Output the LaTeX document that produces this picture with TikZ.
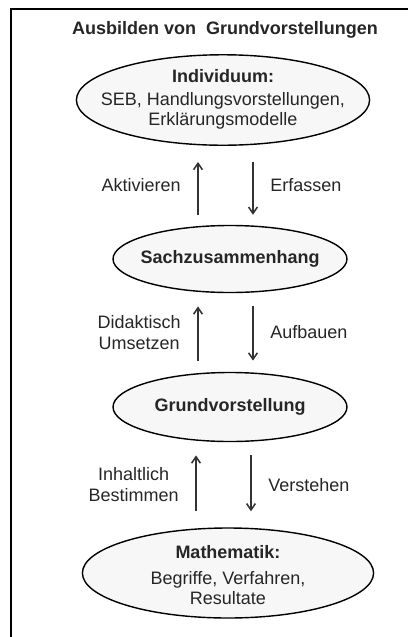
\documentclass[tikz,border=0pt]{standalone}
\usepackage{fontspec}
\setmainfont{Liberation Sans}
\usetikzlibrary{shapes.geometric,arrows.meta}

\tikzset{>={Straight Barb[length=1.6mm,width=2.2mm]}}
\tikzset{
  ell/.style={draw,ellipse,line width=1pt,fill=black!3,inner sep=0pt},
  flow/.style={->,line width=1.1pt,black!80}
}
\newcommand{\ellbox}[1]{\makebox[0pt]{\begin{tabular}{@{}c@{}}#1\end{tabular}}}

\begin{document}
\begin{tikzpicture}[every node/.style={font=\fontsize{12.8}{14.5}\selectfont,text=black!85}]
  \useasboundingbox (0,0) rectangle (10.2,-15.925);
  \draw[line width=1pt] (10.2,-0.225) -- (0.275,-0.225) -- (0.275,-15.925);
  \node[font=\fontsize{12.8}{14.5}\selectfont\bfseries] (title) at (5.625,-0.75) {Ausbilden von\ \ Grundvorstellungen};

  \node[ell,minimum width=7.33cm,minimum height=2.25cm] (ind) at (5.575,-2.5)
    {\ellbox{\textbf{Individuum:}\\[2pt] SEB, Handlungsvorstellungen,\\ Erklärungsmodelle}};
  \node[ell,minimum width=5.85cm,minimum height=1.675cm] (sach) at (5.75,-6.475)
    {\ellbox{\textbf{Sachzusammenhang}}};
  \node[ell,minimum width=5.85cm,minimum height=1.725cm] (grund) at (5.75,-10.175)
    {\ellbox{\textbf{Grundvorstellung}}};
  \node[ell,minimum width=7.28cm,minimum height=2.25cm] (math) at (5.7,-14.325)
    {\makebox[0pt]{\raisebox{-6.3pt}[0pt][0pt]{\begin{tabular}{@{}c@{}}\textbf{Mathematik:}\\[4pt] Begriffe,\ Verfahren,\\ Resultate\end{tabular}}}};

  \foreach \a/\b/\s/\t/\l/\r in {ind/sach/0.25/0.4/{Aktivieren}/{Erfassen},
      sach/grund/0.28/0.33/{Didaktisch\\Umsetzen}/{Aufbauen},
      grund/math/0.4/0.33/{Inhaltlich\\Bestimmen}/{Verstehen}} {%
    \draw[flow,shorten <=\s cm,shorten >=\t cm] ([xshift=-0.8cm]\b.north) -- ([xshift=-0.8cm]\b.north |- \a.south)
      node[midway,left=0.3cm,align=center] {\l};
    \draw[flow,shorten <=\t cm,shorten >=\s cm] ([xshift=0.575cm]\b.north |- \a.south) -- ([xshift=0.575cm]\b.north)
      node[midway,right=0.3cm] {\r};
  }
\end{tikzpicture}
\end{document}
